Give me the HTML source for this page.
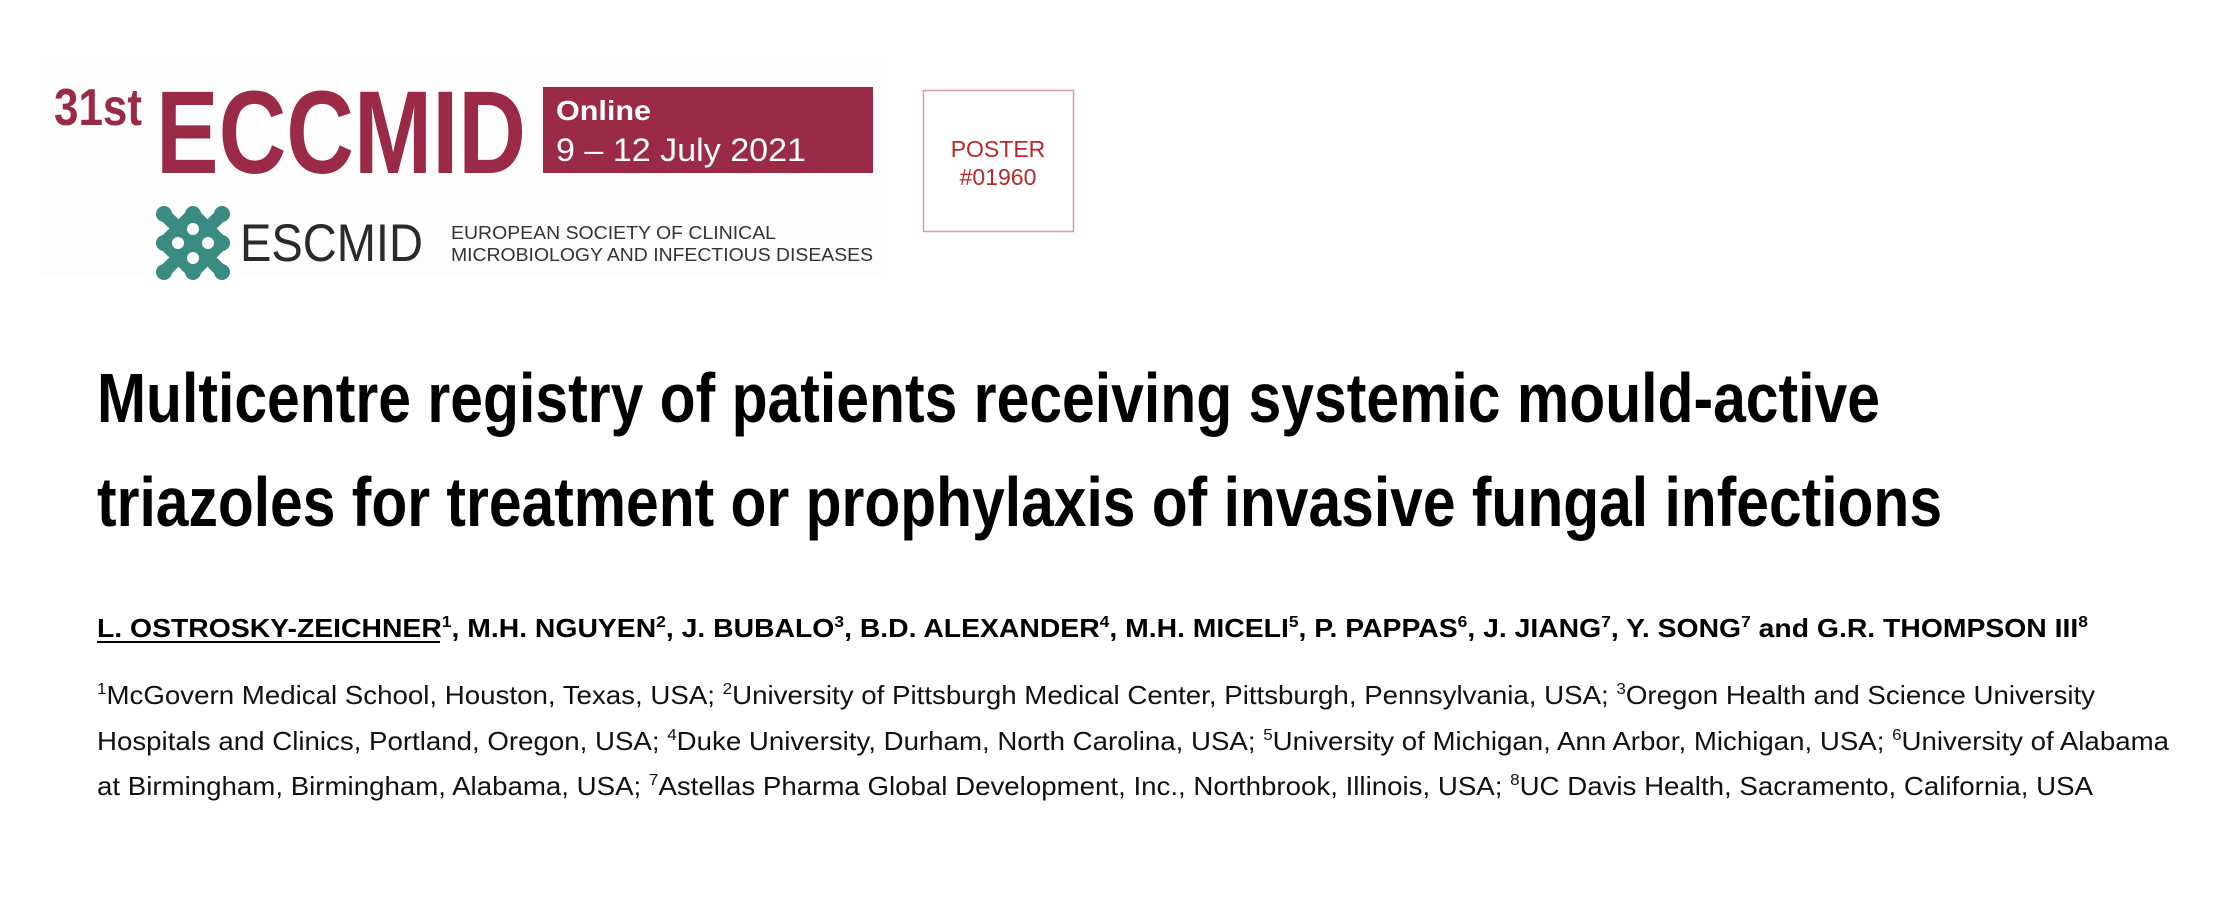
<!DOCTYPE html>
<html><head><meta charset="utf-8"><style>
html,body{margin:0;padding:0;background:#fff;}
svg{display:block;}
text{font-family:"Liberation Sans",sans-serif;}
</style></head><body>
<svg width="2230" height="908" viewBox="0 0 2230 908">
<rect x="40" y="57" width="842" height="220" fill="#fdfdfd"/>
<text x="54" y="125" font-size="52" font-weight="bold" fill="#9b2a46" textLength="88" lengthAdjust="spacingAndGlyphs">31st</text>
<text x="156" y="173" font-size="118" font-weight="bold" fill="#9b2a46" textLength="370" lengthAdjust="spacingAndGlyphs">ECCMID</text>
<rect x="543" y="87" width="330" height="86" fill="#9b2a46"/>
<text x="556" y="120" font-size="28" font-weight="bold" fill="#fff" textLength="95" lengthAdjust="spacingAndGlyphs">Online</text>
<text x="556" y="161" font-size="32" fill="#fff" textLength="250" lengthAdjust="spacingAndGlyphs">9 – 12 July 2021</text>
<rect x="923.5" y="90.5" width="150" height="141" fill="#fff" stroke="#d89aa5" stroke-width="1.5"/>
<text x="998" y="157" font-size="23" fill="#b52a2a" text-anchor="middle">POSTER</text>
<text x="998" y="185" font-size="23" fill="#b52a2a" text-anchor="middle">#01960</text>
<g fill="#3a8c82" stroke="#3a8c82">
<g stroke-width="13" stroke-linecap="round">
<line x1="164" y1="214" x2="222" y2="272"/><line x1="222" y1="214" x2="164" y2="272"/>
<line x1="193" y1="214" x2="222" y2="243"/><line x1="193" y1="214" x2="164" y2="243"/>
<line x1="164" y1="243" x2="193" y2="272"/><line x1="222" y1="243" x2="193" y2="272"/>
</g>
<polygon points="193,214 222,243 193,272 164,243" stroke="none"/>
<circle cx="164" cy="214" r="8" stroke="none"/><circle cx="193" cy="214" r="8" stroke="none"/><circle cx="222" cy="214" r="8" stroke="none"/>
<circle cx="164" cy="243" r="8" stroke="none"/><circle cx="222" cy="243" r="8" stroke="none"/>
<circle cx="164" cy="272" r="8" stroke="none"/><circle cx="193" cy="272" r="8" stroke="none"/><circle cx="222" cy="272" r="8" stroke="none"/>
<g fill="#fff" stroke="none">
<circle cx="193" cy="229" r="6"/><circle cx="178" cy="243" r="6"/><circle cx="208" cy="243" r="6"/><circle cx="193" cy="258" r="6"/>
</g>
</g>
<text x="240" y="261" font-size="53" fill="#2a2a2a" textLength="183" lengthAdjust="spacingAndGlyphs">ESCMID</text>
<text x="451" y="239" font-size="18" fill="#333" textLength="325" lengthAdjust="spacingAndGlyphs">EUROPEAN SOCIETY OF CLINICAL</text>
<text x="451" y="261" font-size="18" fill="#333" textLength="422" lengthAdjust="spacingAndGlyphs">MICROBIOLOGY AND INFECTIOUS DISEASES</text>
<text x="97" y="422" font-size="70" font-weight="bold" fill="#000" textLength="1783" lengthAdjust="spacingAndGlyphs">Multicentre registry of patients receiving systemic mould-active</text>
<text x="97" y="526" font-size="70" font-weight="bold" fill="#000" textLength="1845" lengthAdjust="spacingAndGlyphs">triazoles for treatment or prophylaxis of invasive fungal infections</text>
<text x="97" y="637" font-size="26" font-weight="bold" fill="#000" textLength="1991" lengthAdjust="spacingAndGlyphs">L. OSTROSKY-ZEICHNER<tspan font-size="16" dy="-10">1</tspan><tspan dy="10">, M.H. NGUYEN</tspan><tspan font-size="16" dy="-10">2</tspan><tspan dy="10">, J. BUBALO</tspan><tspan font-size="16" dy="-10">3</tspan><tspan dy="10">, B.D. ALEXANDER</tspan><tspan font-size="16" dy="-10">4</tspan><tspan dy="10">, M.H. MICELI</tspan><tspan font-size="16" dy="-10">5</tspan><tspan dy="10">, P. PAPPAS</tspan><tspan font-size="16" dy="-10">6</tspan><tspan dy="10">, J. JIANG</tspan><tspan font-size="16" dy="-10">7</tspan><tspan dy="10">, Y. SONG</tspan><tspan font-size="16" dy="-10">7</tspan><tspan dy="10"> and G.R. THOMPSON III</tspan><tspan font-size="16" dy="-10">8</tspan></text>
<line x1="97" y1="642" x2="440" y2="642" stroke="#000" stroke-width="2"/>
<text x="97" y="704" font-size="26" fill="#111" textLength="1998" lengthAdjust="spacingAndGlyphs"><tspan font-size="16" dy="-10">1</tspan><tspan dy="10">McGovern Medical School, Houston, Texas, USA; </tspan><tspan font-size="16" dy="-10">2</tspan><tspan dy="10">University of Pittsburgh Medical Center, Pittsburgh, Pennsylvania, USA; </tspan><tspan font-size="16" dy="-10">3</tspan><tspan dy="10">Oregon Health and Science University</tspan></text>
<text x="97" y="750" font-size="26" fill="#111" textLength="2072" lengthAdjust="spacingAndGlyphs">Hospitals and Clinics, Portland, Oregon, USA; <tspan font-size="16" dy="-10">4</tspan><tspan dy="10">Duke University, Durham, North Carolina, USA; </tspan><tspan font-size="16" dy="-10">5</tspan><tspan dy="10">University of Michigan, Ann Arbor, Michigan, USA; </tspan><tspan font-size="16" dy="-10">6</tspan><tspan dy="10">University of Alabama</tspan></text>
<text x="97" y="795" font-size="26" fill="#111" textLength="1996" lengthAdjust="spacingAndGlyphs">at Birmingham, Birmingham, Alabama, USA; <tspan font-size="16" dy="-10">7</tspan><tspan dy="10">Astellas Pharma Global Development, Inc., Northbrook, Illinois, USA; </tspan><tspan font-size="16" dy="-10">8</tspan><tspan dy="10">UC Davis Health, Sacramento, California, USA</tspan></text>
</svg>
</body></html>
